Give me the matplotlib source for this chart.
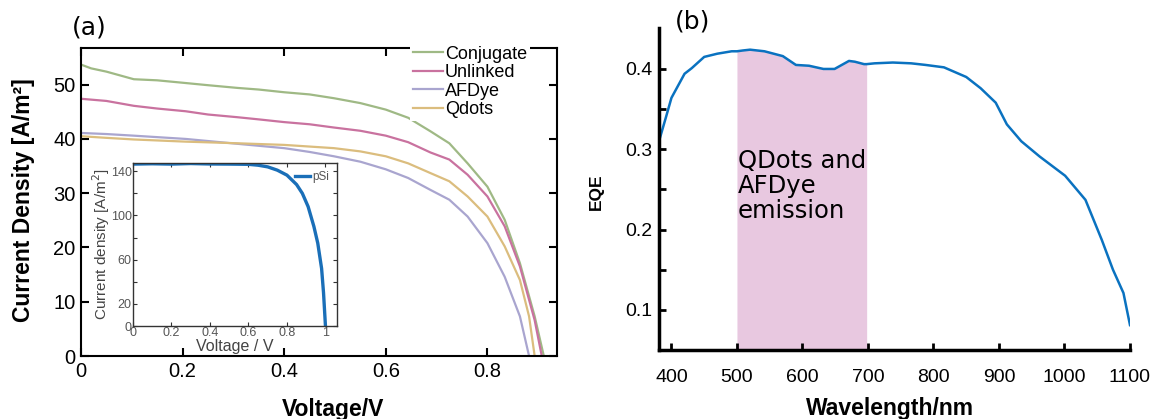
import numpy as np
import matplotlib
matplotlib.use("Agg")
import matplotlib.pyplot as plt

plt.rcParams['font.family'] = ['Liberation Sans', 'DejaVu Sans']

# panel (a) J-V curves
v_conj = [0, 0.02, 0.05, 0.104, 0.15, 0.206, 0.25, 0.308, 0.35, 0.4, 0.45, 0.498, 0.55,
          0.6, 0.644, 0.688, 0.725, 0.761, 0.8, 0.834, 0.864, 0.893, 0.911]
j_conj = [53.7, 53.0, 52.4, 51.0, 50.8, 50.3, 49.9, 49.4, 49.1, 48.6, 48.2, 47.5, 46.6,
          45.4, 43.9, 41.4, 39.2, 35.5, 31.2, 25.1, 17.1, 7.3, 0]

v_unl = [0, 0.05, 0.104, 0.15, 0.206, 0.25, 0.308, 0.35, 0.4, 0.45, 0.498, 0.55, 0.6,
         0.644, 0.688, 0.725, 0.761, 0.8, 0.834, 0.864, 0.893, 0.907]
j_unl = [47.4, 47.0, 46.1, 45.6, 45.1, 44.5, 44.0, 43.6, 43.1, 42.7, 42.1, 41.5, 40.6,
         39.4, 37.5, 36.2, 33.4, 29.4, 23.9, 16.5, 6.6, 0]

v_afd = [0, 0.05, 0.104, 0.206, 0.308, 0.4, 0.45, 0.498, 0.55, 0.6, 0.644, 0.688, 0.725,
         0.761, 0.8, 0.834, 0.864, 0.882]
j_afd = [41.1, 40.9, 40.6, 40.0, 39.1, 38.3, 37.6, 36.8, 35.8, 34.4, 32.8, 30.6, 28.8,
         25.7, 20.8, 14.6, 7.3, 0]

v_qd = [0, 0.05, 0.104, 0.206, 0.308, 0.4, 0.498, 0.55, 0.6, 0.644, 0.688, 0.725, 0.761,
        0.8, 0.834, 0.864, 0.882, 0.893]
j_qd = [40.5, 40.2, 39.9, 39.5, 39.2, 38.9, 38.3, 37.7, 36.8, 35.5, 33.7, 32.2, 29.4,
        25.7, 20.2, 14.0, 7.3, 0]

# inset pSi
v_psi = [0, 0.1, 0.2, 0.3, 0.4, 0.5, 0.6, 0.65, 0.7, 0.75, 0.8, 0.85, 0.88, 0.91, 0.94,
         0.96, 0.98, 0.99, 1.0]
j_psi = [146.5, 146.8, 146.5, 147.0, 146.6, 146.5, 146.3, 145.5, 144, 141, 136.5, 128,
         120, 108, 90, 75, 52, 30, 0]

# panel (b) EQE
wl = np.array([381, 392, 400, 420, 431, 450, 470, 492, 500, 509, 520, 542, 570, 590, 610,
               632, 649, 660, 671, 680, 694, 698, 710, 738, 766, 788, 816, 850, 872, 895,
               912, 934, 962, 1001, 1032, 1057, 1074, 1090, 1100])
eqe = np.array([0.310, 0.341, 0.364, 0.394, 0.401, 0.415, 0.419, 0.422, 0.422, 0.423,
                0.424, 0.422, 0.416, 0.405, 0.404, 0.400, 0.400, 0.405, 0.410, 0.409,
                0.406, 0.406, 0.407, 0.408, 0.407, 0.405, 0.402, 0.390, 0.376, 0.358,
                0.331, 0.310, 0.291, 0.267, 0.237, 0.187, 0.150, 0.121, 0.081])

W, H = 1155, 419
fig = plt.figure(figsize=(W / 100, H / 100), dpi=100)

def box(l, t, r, b):
    return [l / W, 1 - b / H, (r - l) / W, (b - t) / H]

## panel (a)
ax = fig.add_axes(box(81, 48.3, 556.5, 356))
ax.plot(v_conj, j_conj, color='#9fb985', lw=1.6, label='Conjugate')
ax.plot(v_unl, j_unl, color='#c9729f', lw=1.6, label='Unlinked')
ax.plot(v_afd, j_afd, color='#a9a5cf', lw=1.6, label='AFDye')
ax.plot(v_qd, j_qd, color='#dbbd7e', lw=1.6, label='Qdots')
ax.set_xlim(0, 0.936)
ax.set_ylim(0, 56.7)
ax.set_xticks([0, 0.2, 0.4, 0.6, 0.8])
ax.set_xticklabels(['0', '0.2', '0.4', '0.6', '0.8'])
ax.set_yticks([0, 10, 20, 30, 40, 50])
ax.tick_params(direction='in', length=6, width=1.5, labelsize=14.5, top=True, right=True, pad=4)
for s in ax.spines.values():
    s.set_linewidth(1.5)
ax.set_xlabel('Voltage/V', fontsize=16.5, fontweight='bold')
ax.xaxis.set_label_coords(0.53, -0.135)
ax.set_ylabel('Current Density [A/m²]', fontsize=16.5, fontweight='bold')
ax.yaxis.set_label_coords(-0.097, 0.507)
leg = ax.legend(loc='upper left', bbox_to_anchor=(410 / W, 1 - 43 / H),
                bbox_transform=fig.transFigure, fontsize=13, frameon=True,
                facecolor='white', edgecolor='none', framealpha=1, fancybox=False,
                borderpad=0.15, borderaxespad=0, labelspacing=0.08, handlelength=1.65,
                handletextpad=0.12)
fig.text(89 / W, 1 - 28 / H, '(a)', fontsize=18, family='DejaVu Sans', ha='center', va='center')

# inset
ins = fig.add_axes(box(133, 163, 337, 326))
ins.plot(v_psi, j_psi, color='#1a6fb8', lw=2.4, label='pSi')
ins.set_xlim(0, 1.06)
ins.set_ylim(0, 147.5)
ins.set_xticks([0, 0.2, 0.4, 0.6, 0.8, 1])
ins.set_xticklabels(['0', '0.2', '0.4', '0.6', '0.8', '1'])
ins.set_yticks([0, 20, 40, 60, 80, 100, 120, 140])
ins.set_yticklabels(['0', '20', '', '60', '', '100', '', '140'])
ins.tick_params(direction='in', length=3, width=0.8, labelsize=9, top=True, right=True,
                pad=1, colors='#333333', labelcolor='#555555')
for s in ins.spines.values():
    s.set_linewidth(1.0)
    s.set_color('#333333')
ins.set_xlabel('Voltage / V', fontsize=11.5, color='#444444', labelpad=0)
ins.set_ylabel('Current density [A/m$^2$]', fontsize=11, color='#444444', labelpad=-1)
ins.legend(loc='upper right', fontsize=8.5, frameon=False, handlelength=1.3,
           handletextpad=0.15, borderaxespad=0.3, labelcolor='#555555')

## panel (b)
bx = fig.add_axes(box(659, 28, 1130, 350))
bx.fill_between(wl, 0.05, eqe, where=(wl >= 500) & (wl <= 698), color='#e8c8e0', lw=0)
bx.plot(wl, eqe, color='#0a72c0', lw=1.8)
bx.set_xlim(381, 1100)
bx.set_ylim(0.05, 0.451)
bx.set_xticks([400, 500, 600, 700, 800, 900, 1000, 1100])
bx.set_yticks([0.1, 0.2, 0.3, 0.4])
bx.set_yticks([0.15, 0.25, 0.35], minor=True)
bx.spines['top'].set_visible(False)
bx.spines['right'].set_visible(False)
bx.spines['left'].set_linewidth(2.5)
bx.spines['bottom'].set_linewidth(2.5)
bx.tick_params(which='both', direction='in', length=5, width=2)
bx.tick_params(axis='x', labelsize=14, pad=14)
bx.tick_params(axis='y', labelsize=14, pad=5)
bx.set_xlabel('Wavelength/nm', fontsize=16.5, fontweight='bold')
bx.xaxis.set_label_coords(0.49, -0.147)
bx.set_ylabel('EQE', fontsize=12.5, fontweight='bold')
bx.yaxis.set_label_coords(-0.117, 0.49)
bx.text(501, 0.30, 'QDots and\nAFDye\nemission', fontsize=17.5, family='DejaVu Sans',
        ha='left', va='top', linespacing=1.05)
fig.text(693 / W, 1 - 22 / H, '(b)', fontsize=18, family='DejaVu Sans', ha='center', va='center')

fig.savefig('out.png', dpi=100)
